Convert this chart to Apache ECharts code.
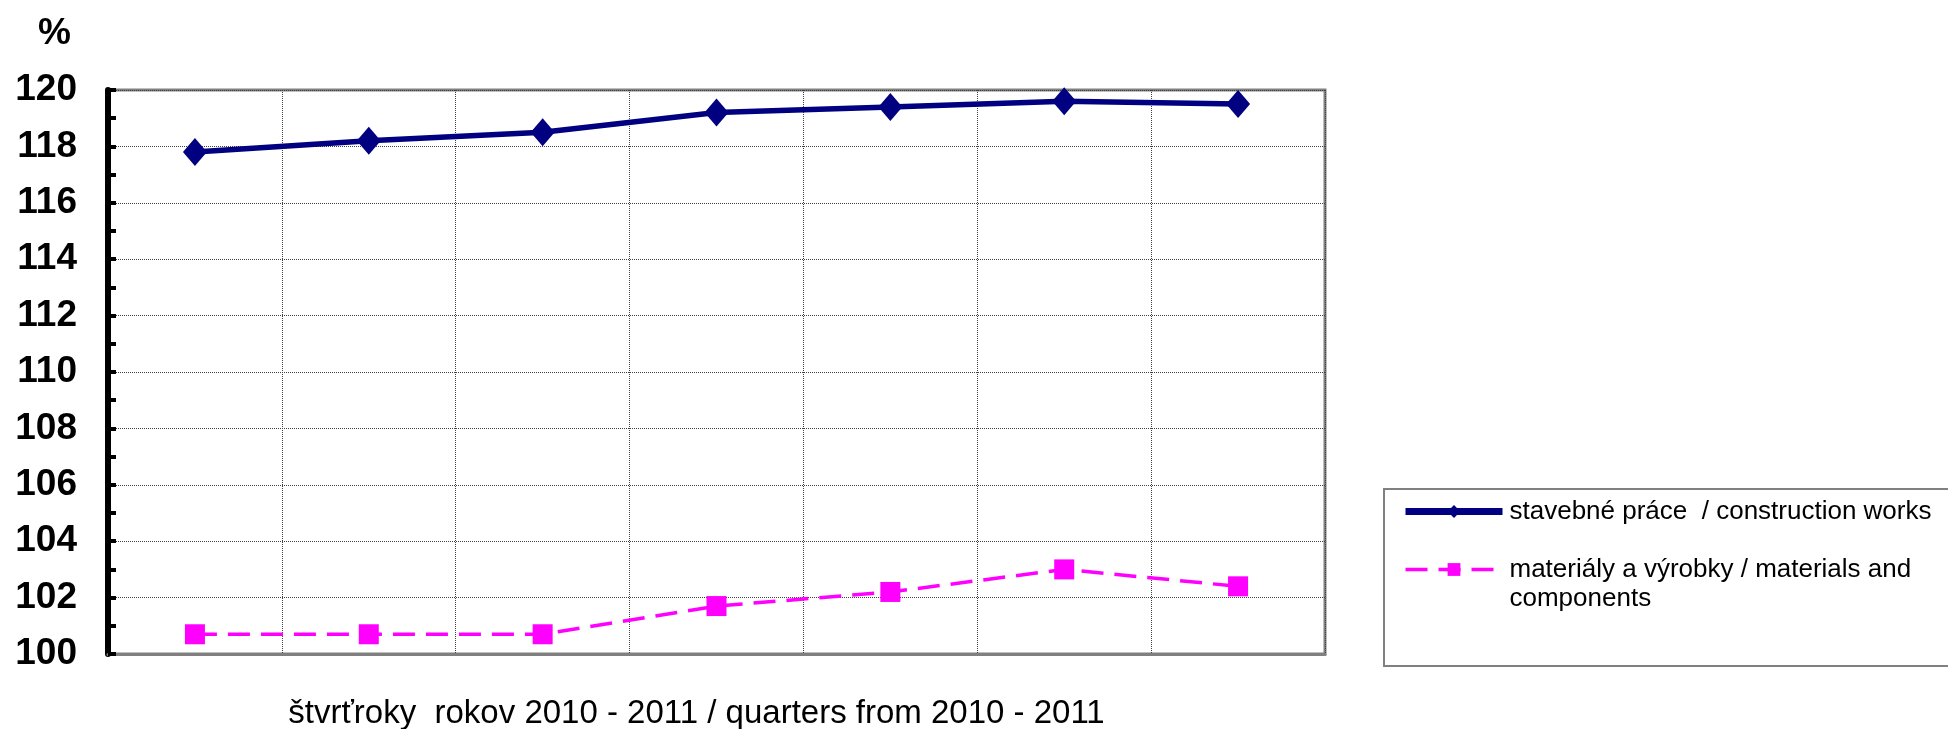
<!DOCTYPE html>
<html>
<head>
<meta charset="utf-8">
<script src="https://cdn.jsdelivr.net/npm/echarts@6/dist/echarts.min.js"></script>
<style>
html,body{margin:0;padding:0;background:#fff;}
#chart{width:1948px;height:729px;}
</style>
</head>
<body>
<div id="chart"></div>
<script>
const categories = ['1Q 2010', '2Q 2010', '3Q 2010', '4Q 2010', '1Q 2011', '2Q 2011', '3Q 2011'];
const constructionWorks = [117.8, 118.2, 118.5, 119.2, 119.4, 119.6, 119.5];
const materials = [100.7, 100.7, 100.7, 101.7, 102.2, 103.0, 102.4];
const seriesNames = ['stavebné práce  / construction works', 'materiály a výrobky / materials and\ncomponents'];
const yTicks = { min: 100, max: 120, interval: 2 };
const xAxisTitle = 'štvrťroky  rokov 2010 - 2011 / quarters from 2010 - 2011';
const yAxisTitle = '%';

const FONT = '"Liberation Sans", Arial, sans-serif';
const chart = echarts.init(document.getElementById('chart'));
chart.setOption({
  animation: false,
  backgroundColor: '#fff',
  title: {
    text: yAxisTitle, left: 33, top: 10,
    textStyle: { fontFamily: FONT, fontSize: 37, fontWeight: 'bold', color: '#000' }
  },
  grid: {
    left: 108, top: 90, right: 623, bottom: 75,
    outerBoundsMode: 'none',
    show: true, borderColor: '#808080', borderWidth: 3, backgroundColor: '#fff'
  },
  legend: {
    orient: 'vertical', left: 1397, top: 492,
    itemWidth: 97, itemHeight: 16, itemGap: 0,
    data: [
      { name: seriesNames[0], lineStyle: { width: 7 } },
      { name: seriesNames[1], lineStyle: { width: 3.5, type: [22, 11] } }
    ],
    formatter: function (name) {
      return name === seriesNames[1] ? '\n' + name : name;
    },
    textStyle: { fontFamily: FONT, fontSize: 26, color: '#000', lineHeight: 29, padding: [0, 0, 0, 2] }
  },
  graphic: [{
    type: 'rect', left: 1383, top: 488, z: -1,
    shape: { width: 600, height: 177 },
    style: { fill: '#fff', stroke: '#808080', lineWidth: 2 }
  }],
  xAxis: {
    type: 'category', data: categories, boundaryGap: true,
    name: xAxisTitle, nameLocation: 'middle', nameGap: 43,
    nameTextStyle: { fontFamily: FONT, fontSize: 33, color: '#000', padding: [0, 40, 0, 0] },
    axisLine: { show: true, lineStyle: { color: '#808080', width: 3 } },
    axisTick: { show: false },
    axisLabel: { show: false },
    splitLine: { show: true, interval: 0, lineStyle: { color: '#404040', type: 'dotted', width: 1 } }
  },
  yAxis: {
    type: 'value', min: yTicks.min, max: yTicks.max, interval: yTicks.interval,
    axisLine: { show: true, lineStyle: { color: '#000', width: 6 } },
    axisTick: { show: true, inside: true, length: 8, lineStyle: { color: '#000', width: 4 } },
    minorTick: { show: true, splitNumber: 2, length: 8, lineStyle: { color: '#000', width: 4 } },
    axisLabel: { fontFamily: FONT, fontSize: 37, fontWeight: 'bold', color: '#000', margin: 31 },
    splitLine: { show: true, lineStyle: { color: '#404040', type: 'dotted', width: 1 } }
  },
  series: [{
    name: seriesNames[0], type: 'line', data: constructionWorks,
    symbol: 'diamond', symbolSize: [24, 28],
    lineStyle: { color: '#000080', width: 5.5 },
    itemStyle: { color: '#000080' }
  }, {
    name: seriesNames[1], type: 'line', data: materials,
    symbol: 'rect', symbolSize: 20,
    lineStyle: { color: '#FF00FF', width: 3.5, type: [22, 11] },
    itemStyle: { color: '#FF00FF' }
  }]
});
</script>
</body>
</html>
